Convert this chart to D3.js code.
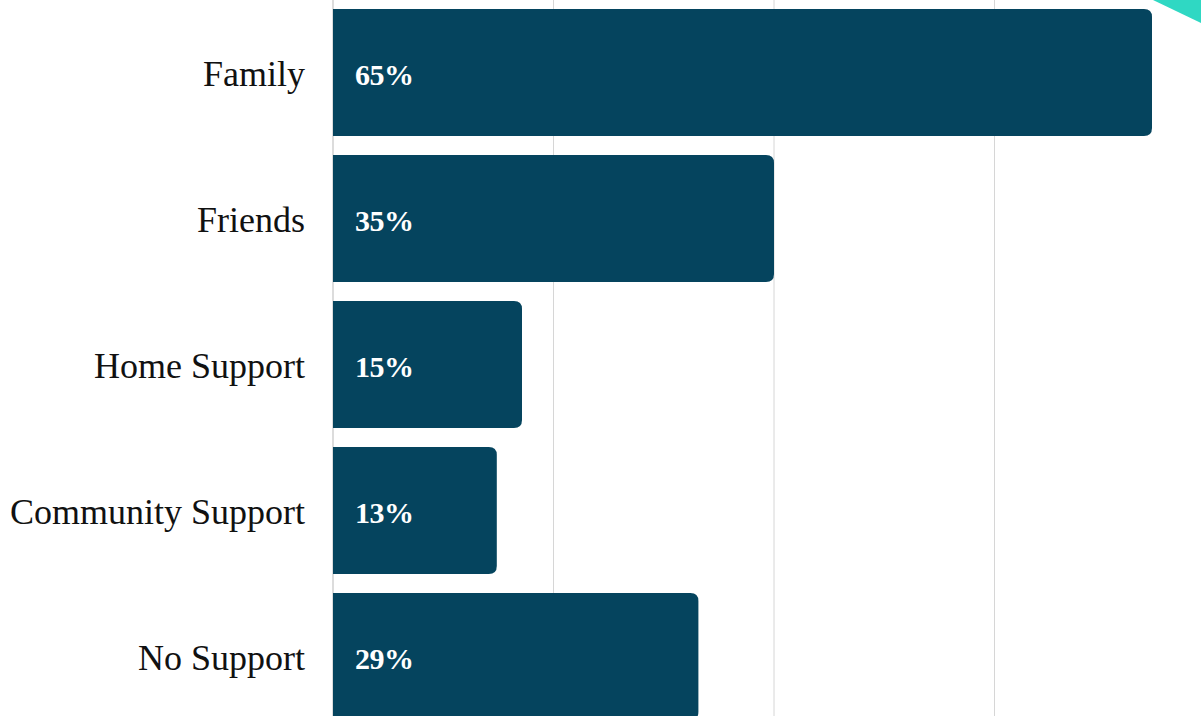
<!DOCTYPE html>
<html>
<head>
<meta charset="utf-8">
<script src="https://cdn.jsdelivr.net/npm/d3@7"></script>
<style>
  html, body { margin: 0; padding: 0; background: #fff; overflow: hidden; }
  svg { display: block; }
</style>
</head>
<body>
<svg id="chart"></svg>
<script>
// chart data
const categories = ["Family", "Friends", "Home Support", "Community Support", "No Support"];
const shares = [65, 35, 15, 13, 29];
const gridTicks = [17.5, 35, 52.5];   // vertical guide lines

const W = 1201, H = 716;
const barColor = "#05445e";

const svg = d3.select("#chart").attr("width", W).attr("height", H);

const x = d3.scaleLinear().domain([0, 65]).range([333, 1152]);
const y = d3.scaleBand().domain(categories).range([-0.5, 729.5]).paddingInner(0.13).paddingOuter(0.065);

// decorative corner
svg.append("polygon")
    .attr("points", `1153,0 1201,0 1201,23`)
    .attr("fill", "#2fd8c3");

// grid lines
svg.append("g").selectAll("line")
    .data(gridTicks)
    .join("line")
    .attr("x1", d => x(d)).attr("x2", d => x(d))
    .attr("y1", 0).attr("y2", H)
    .attr("stroke", "#d6d6d6").attr("stroke-width", 1);

// baseline
svg.append("line")
    .attr("x1", x(0)).attr("x2", x(0))
    .attr("y1", 0).attr("y2", H)
    .attr("stroke", "#d0d0d0").attr("stroke-width", 1.5);

const data = categories.map((c, i) => ({cat: c, val: shares[i]}));

// bars with rounded right end only
const r = 8;
const barPath = d => {
    const x0 = x(0), x1 = x(d.val), y0 = y(d.cat), y1 = y0 + y.bandwidth();
    return `M${x0},${y0}H${x1 - r}Q${x1},${y0} ${x1},${y0 + r}V${y1 - r}Q${x1},${y1} ${x1 - r},${y1}H${x0}Z`;
};

svg.append("g").selectAll("path")
    .data(data)
    .join("path")
    .attr("d", barPath)
    .attr("fill", barColor);

// value labels inside the bars
svg.append("g").selectAll("text")
    .data(data)
    .join("text")
    .attr("x", x(0) + 22)
    .attr("y", d => y(d.cat) + y.bandwidth() / 2 + 6)
    .attr("dominant-baseline", "middle")
    .attr("font-family", "'Liberation Serif', 'Times New Roman', serif")
    .attr("font-weight", "bold")
    .attr("font-size", 30)
    .attr("letter-spacing", -0.5)
    .attr("fill", "#fff")
    .text(d => d.val + "%");

// category labels
svg.append("g").selectAll("text")
    .data(categories)
    .join("text")
    .attr("x", 305)
    .attr("y", d => y(d) + y.bandwidth() / 2 + 5)
    .attr("text-anchor", "end")
    .attr("dominant-baseline", "middle")
    .attr("font-family", "'Liberation Serif', 'Times New Roman', serif")
    .attr("font-size", 36)
    .attr("fill", "#111")
    .text(d => d);
</script>
</body>
</html>
